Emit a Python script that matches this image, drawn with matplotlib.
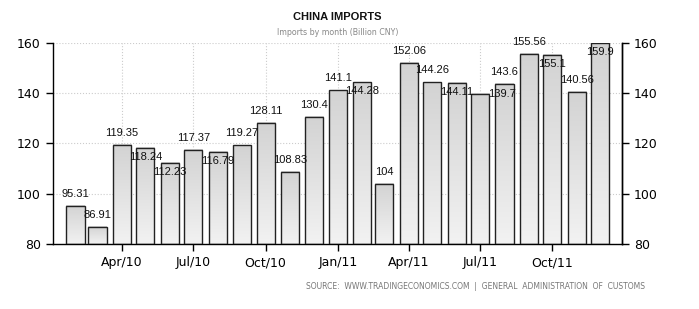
import matplotlib
matplotlib.use('Agg')
import matplotlib.pyplot as plt
import matplotlib.dates as mdates
import numpy as np
import pandas as pd
from datetime import date

# monthly data, Feb/10 .. Dec/11
months = pd.date_range('2010-02-01', '2011-12-01', freq='MS')
imports = [95.31, 86.91, 119.35, 118.24, 112.23, 117.37, 116.79, 119.27,
           128.11, 108.83, 130.4, 141.1, 144.28, 104, 152.06, 144.26,
           144.11, 139.7, 143.6, 155.56, 155.1, 140.56, 159.9]
yticks = [80, 100, 120, 140, 160]

# where each value label sits relative to bar top (pixels)
UP, DN = (0, 12), (0, -9)
label_off = [UP, UP, UP, DN, DN, UP, DN, UP, UP, UP, UP, UP, DN, UP, UP, UP,
             DN, (22, 0), UP, UP, DN, UP, DN]

fig = plt.figure(figsize=(6.99, 3.09), dpi=100)
ax = fig.add_axes([0.0754, 0.2094, 0.8149, 0.6524])

x = mdates.date2num(months.to_pydatetime())
width = 23
bars = ax.bar(x, np.array(imports) - 80, width=width, bottom=80,
              facecolor='none', edgecolor='#222222', linewidth=1, zorder=3)

# gray gradient inside every bar
grad = np.linspace(0, 1, 100).reshape(-1, 1)
cmap = matplotlib.colors.LinearSegmentedColormap.from_list('g', ['#f2f2f2', '#d3d3d3'])
for xi, v in zip(x, imports):
    ax.imshow(grad, extent=(xi - width / 2, xi + width / 2, 80, v), origin='lower',
              aspect='auto', cmap=cmap, zorder=2)

for xi, v, off in zip(x, imports, label_off):
    ax.annotate(f'{v:g}', (xi, v), xytext=off, textcoords='offset pixels',
                ha='center', va='center', fontsize=8,
                family='Liberation Sans', color='#111111', zorder=4)

ax.set_xlim(mdates.date2num(date(2010, 1, 3)), mdates.date2num(date(2011, 12, 29)))
ax.set_ylim(80, 160)
ax.set_yticks(yticks)
ax.xaxis.set_major_locator(mdates.MonthLocator(bymonth=[1, 4, 7, 10]))
ax.xaxis.set_major_formatter(mdates.DateFormatter('%b/%y'))
ax.tick_params(direction='out', length=5, width=1, labelsize=9, colors='black')
ax.grid(True, color='#cccccc', linestyle=':', linewidth=0.8, zorder=0)
ax.set_axisbelow(True)
ax.spines['top'].set_visible(False)
for s in ['left', 'right', 'bottom']:
    ax.spines[s].set_color('black')
    ax.spines[s].set_linewidth(1)

ax2 = ax.twinx()
ax2.set_ylim(80, 160)
ax2.set_yticks(yticks)
ax2.tick_params(direction='out', length=5, width=1, labelsize=9)
for s in ['top', 'left', 'bottom']:
    ax2.spines[s].set_visible(False)
ax2.spines['right'].set_linewidth(1)

fig.text(0.483, 0.945, 'CHINA IMPORTS', ha='center', va='center',
         fontsize=8, fontweight='bold', family='Liberation Sans', color='#111111')
fig.text(0.483, 0.896, 'Imports by month (Billion CNY)', ha='center', va='center',
         fontsize=5.7, color='#888888')
fig.text(0.9227, 0.0744,
         'SOURCE:  WWW.TRADINGECONOMICS.COM  |  GENERAL  ADMINISTRATION  OF  CUSTOMS',
         ha='right', va='center', fontsize=5.5, color='#777777')

fig.savefig('out.png', dpi=100)
